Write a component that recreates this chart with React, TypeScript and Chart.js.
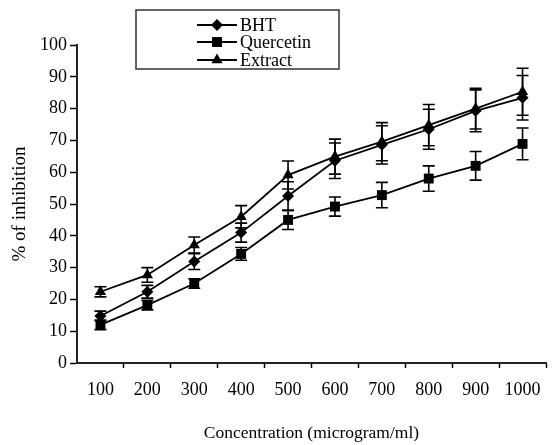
import React, { useEffect, useRef } from "react";
import { Chart, registerables } from "chart.js";

Chart.register(...registerables);

const categories = ["100", "200", "300", "400", "500", "600", "700", "800", "900", "1000"];
const bhtValues = [14.8, 22.4, 31.9, 41, 52.5, 63.6, 68.6, 73.5, 79.3, 83.4];
const bhtErrors = [1.5, 2, 2.5, 3, 4.5, 5.6, 6, 6.3, 6.6, 7];
const quercetinValues = [12, 18.2, 25, 34.3, 45, 49.2, 52.8, 58, 62, 68.9];
const quercetinErrors = [1.5, 1.5, 1.5, 2, 3, 3, 4, 4, 4.5, 5];
const extractValues = [22.4, 27.7, 37.1, 46, 59.1, 64.9, 69.6, 74.8, 80, 85.3];
const extractErrors = [1.6, 2.3, 2.5, 3.5, 4.4, 5.5, 6, 6.5, 6.4, 7.4];
const yTicks = [0, 10, 20, 30, 40, 50, 60, 70, 80, 90, 100];

const seriesNames = ["BHT", "Quercetin", "Extract"];
const seriesStyles = ["rectRot", "rect", "triangle"];
const seriesRadius = [6, 7, 6.5];
const errorsList = [bhtErrors, quercetinErrors, extractErrors];

const FONT = "'Liberation Serif', 'DejaVu Serif', serif";

const errorBarPlugin = {
  id: "errorBars",
  afterDatasetsDraw(chart: any) {
    const ctx = chart.ctx;
    const yScale = chart.scales.y;
    ctx.save();
    ctx.strokeStyle = "#000";
    ctx.lineWidth = 1.6;
    chart.data.datasets.forEach((ds: any, di: number) => {
      const meta = chart.getDatasetMeta(di);
      const errs = errorsList[di];
      meta.data.forEach((pt: any, i: number) => {
        const v = ds.data[i];
        const e = errs[i];
        const x = pt.x;
        const yTop = yScale.getPixelForValue(v + e);
        const yBot = yScale.getPixelForValue(v - e);
        const cap = 6;
        ctx.beginPath();
        ctx.moveTo(x, yTop);
        ctx.lineTo(x, yBot);
        ctx.moveTo(x - cap, yTop);
        ctx.lineTo(x + cap, yTop);
        ctx.moveTo(x - cap, yBot);
        ctx.lineTo(x + cap, yBot);
        ctx.stroke();
      });
    });
    ctx.restore();
  },
};

function drawMarker(ctx: CanvasRenderingContext2D, style: string, r: number, x: number, y: number) {
  ctx.beginPath();
  if (style === "rectRot") {
    ctx.moveTo(x, y - r);
    ctx.lineTo(x + r, y);
    ctx.lineTo(x, y + r);
    ctx.lineTo(x - r, y);
  } else if (style === "rect") {
    const s = Math.SQRT1_2 * r;
    ctx.rect(x - s, y - s, 2 * s, 2 * s);
  } else {
    ctx.moveTo(x, y - r);
    ctx.lineTo(x + r * 0.866, y + r * 0.5);
    ctx.lineTo(x - r * 0.866, y + r * 0.5);
  }
  ctx.closePath();
  ctx.fill();
}

const legendPlugin = {
  id: "customLegend",
  afterDraw(chart: any) {
    const ctx = chart.ctx;
    ctx.save();
    ctx.fillStyle = "#fff";
    ctx.fillRect(136, 10, 203, 59);
    ctx.strokeStyle = "#333";
    ctx.lineWidth = 1.5;
    ctx.strokeRect(136, 10, 203, 59);
    const rows = [25, 42, 60];
    seriesNames.forEach((name, i) => {
      const y = rows[i];
      ctx.strokeStyle = "#000";
      ctx.lineWidth = 2;
      ctx.beginPath();
      ctx.moveTo(197, y);
      ctx.lineTo(237, y);
      ctx.stroke();
      ctx.fillStyle = "#000";
      drawMarker(ctx, seriesStyles[i], seriesRadius[i], 217, y);
      ctx.fillStyle = "#000";
      ctx.font = `18px ${FONT}`;
      ctx.textBaseline = "middle";
      ctx.textAlign = "left";
      ctx.fillText(name, 240, y + 1);
    });
    ctx.restore();
  },
};

export default function App() {
  const ref = useRef<HTMLCanvasElement | null>(null);
  useEffect(() => {
    document.body.style.margin = "0";
    const canvas = ref.current!;
    const valueSets = [bhtValues, quercetinValues, extractValues];
    const chart = new Chart(canvas, {
      type: "line",
      data: {
        labels: categories,
        datasets: valueSets.map((vals, i) => ({
          label: seriesNames[i],
          data: vals,
          borderColor: "#000",
          backgroundColor: "#000",
          borderWidth: 1.8,
          pointStyle: seriesStyles[i] as any,
          pointRadius: seriesRadius[i],
          pointBackgroundColor: "#000",
          pointBorderColor: "#000",
          pointBorderWidth: 0,
          tension: 0,
          fill: false,
        })),
      },
      options: {
        animation: false,
        responsive: false,
        maintainAspectRatio: false,
        layout: { padding: { top: 45, right: 7, left: 0, bottom: 0 } },
        plugins: {
          legend: { display: false },
          tooltip: { enabled: false },
          title: { display: false },
        },
        scales: {
          x: {
            type: "category",
            offset: true,
            grid: {
              display: true,
              offset: true,
              drawOnChartArea: false,
              drawTicks: true,
              tickLength: 5,
              tickWidth: 1.5,
              tickColor: (c: any) =>
                c.index === 0 || c.index === categories.length ? "rgba(0,0,0,0)" : "#000",
            },
            border: { display: true, color: "#222", width: 2 },
            ticks: {
              color: "#000",
              font: { family: FONT, size: 18 },
              padding: 11,
              maxRotation: 0,
              autoSkip: false,
            },
            title: {
              display: true,
              text: "Concentration (microgram/ml)",
              color: "#000",
              font: { family: FONT, size: 17.5 },
              padding: { top: 0, bottom: 1 },
            },
            afterFit(scale: any) {
              scale.height = 82;
            },
          },
          y: {
            min: 0,
            max: 100,
            afterBuildTicks(scale: any) {
              scale.ticks = yTicks.map((v) => ({ value: v }));
            },
            grid: {
              display: true,
              drawOnChartArea: false,
              drawTicks: true,
              tickLength: 7,
              tickWidth: 1.5,
              tickColor: "#000",
            },
            border: { display: true, color: "#222", width: 2 },
            ticks: {
              color: "#000",
              font: { family: FONT, size: 18 },
              padding: 3,
            },
            title: {
              display: true,
              text: "% of inhibition",
              color: "#000",
              font: { family: FONT, size: 19 },
              padding: { top: 9, bottom: 0 },
            },
            afterFit(scale: any) {
              scale.width = 77;
            },
          },
        },
      },
      plugins: [errorBarPlugin, legendPlugin],
    });
    return () => chart.destroy();
  }, []);
  return (
    <div style={{ width: 553, height: 445, background: "#fff" }}>
      <canvas ref={ref} width={553} height={445} style={{ display: "block" }} />
    </div>
  );
}
